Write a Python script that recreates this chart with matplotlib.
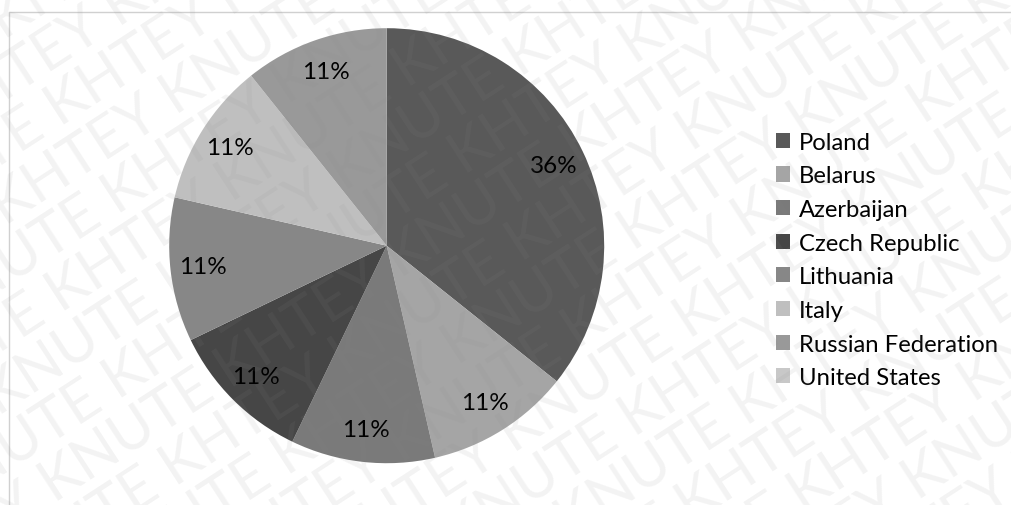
import numpy as np
import matplotlib
matplotlib.use("Agg")
import matplotlib.pyplot as plt
from matplotlib.patches import Rectangle

countries = ["Poland", "Belarus", "Azerbaijan", "Czech Republic", "Lithuania",
             "Italy", "Russian Federation", "United States"]
values = [10, 3, 3, 3, 3, 3, 3, 0]
colors = ["#595959", "#a5a5a5", "#7a7a7a", "#464646", "#878787",
          "#bfbfbf", "#999999", "#c8c8c8"]

plt.rcParams['font.family'] = ['Lato', 'DejaVu Sans']

W, H = 1011, 506
fig = plt.figure(figsize=(W / 100, H / 100), dpi=100)
fig.patch.set_facecolor("white")

# chart frame (cut at right and bottom)
fig.patches.append(Rectangle((8.5 / W, -0.2), 1.2, 0.2 + (1 - 12.5 / H), transform=fig.transFigure,
                             fill=False, edgecolor="#d0d0d0", linewidth=1.0, zorder=0))

cx, cy, R = 386.7, 246.7, 217.5
ax = fig.add_axes([(cx - R) / W, (H - cy - R) / H, 2 * R / W, 2 * R / H])

def pct(p):
    return f"{p:.0f}%" if p > 0.5 else ""

wedges, texts, autotexts = ax.pie(values, colors=colors, startangle=90, counterclock=False,
                                  radius=1, autopct=pct, pctdistance=0.85,
                                  wedgeprops=dict(linewidth=0),
                                  textprops=dict(fontsize=17.5, color="black"))
ax.set_xlim(-1, 1)
ax.set_ylim(-1, 1)
ax.set_aspect("equal")
ax.axis("off")

leg = fig.legend(wedges, countries, loc="center left",
                 bbox_to_anchor=(776 / W, (H - 261) / H), frameon=False,
                 fontsize=17.2, handlelength=0.6, handleheight=0.6,
                 handletextpad=0.35, labelspacing=0.53, borderpad=0, borderaxespad=0)

# watermark
wm = "KHTEY KNUTE KHTEY KNUTE KHTEY KNUTE KHTEY KNUTE"
a_deg = 33
ang = np.deg2rad(a_deg)
nx, ny = -np.sin(ang), np.cos(ang)
d = 52
for k in range(-11, 12):
    px = W / 2 + k * d * nx + (k % 2) * 100 * np.cos(ang)
    py = H / 2 + k * d * ny + (k % 2) * 100 * np.sin(ang)
    fig.text(px / W, py / H, wm, rotation=a_deg, rotation_mode="anchor",
             ha="center", va="center", fontsize=42, color="#8c8c8c", alpha=0.1,
             zorder=10)

fig.savefig("out.png", dpi=100, facecolor="white")
